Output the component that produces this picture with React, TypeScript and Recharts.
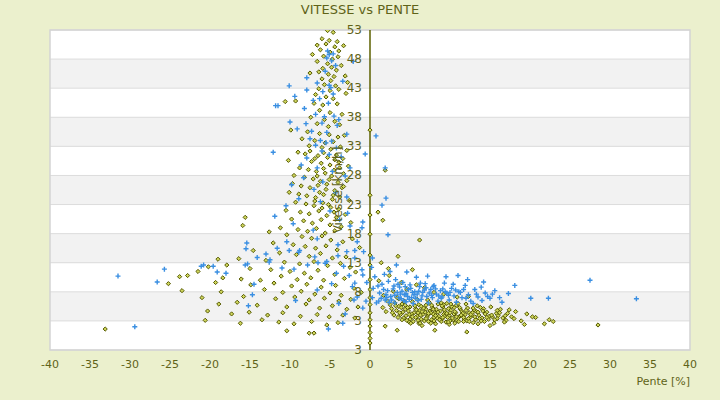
import { ScatterChart, Scatter, XAxis, YAxis, CartesianGrid, ReferenceLine, ReferenceArea } from 'recharts';

const BG = '#ebf0cd';
const OLIVE_TEXT = '#5f6318';
const AXIS = '#5c6000';

const xTicks = [-40, -35, -30, -25, -20, -15, -10, -5, 0, 5, 10, 15, 20, 25, 30, 35, 40];
const yTicks = [-2, 3, 8, 13, 18, 23, 28, 33, 38, 43, 48, 53];
const yTickLabels = ['3', '3', '8', '13', '18', '23', '28', '33', '38', '43', '48', '53'];

// pente [%], vitesse [km/h] — olive diamonds
const olivePoints: [number, number][] = [
  // tower, top
  [-5.3, 52.9], [-4.6, 52.6], [-6.0, 51.5], [-5.1, 51.2], [-4.1, 51.0], [-6.6, 50.4], [-5.5, 50.6], [-4.4, 50.1],
  [-3.3, 50.3], [-6.2, 49.6], [-5.0, 49.2], [-3.9, 49.4], [-7.2, 48.8], [-5.8, 48.5], [-4.7, 48.0], [-4.0, 48.4],
  [-6.6, 47.6], [-5.3, 47.2], [-3.6, 46.9], [-4.8, 46.6], [-5.9, 46.4], [-4.2, 46.1], [-7.5, 45.6], [-6.4, 45.8],
  [-5.2, 45.4], [-4.5, 45.0], [-3.1, 45.1], [-6.0, 44.6], [-4.9, 44.3], [-2.8, 44.0],
  [-5.7, 43.6], [-4.3, 43.4], [-6.4, 42.9], [-5.0, 42.6], [-3.9, 42.8], [-3.0, 42.1], [-6.8, 41.9], [-5.5, 41.5],
  [-4.6, 41.2], [-9.3, 40.8], [-10.6, 40.7], [-7.0, 40.4], [-5.9, 40.1], [-4.1, 40.3], [-6.3, 39.2], [-5.0, 38.8],
  [-3.5, 38.5], [-7.4, 38.0], [-5.7, 37.6], [-4.4, 37.3], [-6.6, 36.9], [-5.2, 36.4], [-3.8, 36.7],
  // tower, middle
  [-9.9, 35.8], [-7.8, 35.5], [-6.3, 35.2], [-5.1, 35.0], [-4.0, 34.6], [-3.2, 34.9], [-8.5, 34.3], [-6.9, 34.0],
  [-5.6, 33.6], [-4.6, 33.8], [-7.6, 33.1], [-6.0, 32.8], [-4.9, 32.5], [-3.7, 32.9], [-2.9, 32.3], [-9.0, 32.0],
  [-8.1, 31.7], [-6.5, 31.4], [-5.3, 31.1], [-4.2, 31.5], [-3.4, 30.9], [-10.2, 30.6], [-7.3, 30.4], [-6.1, 30.1],
  [-5.0, 29.8], [-3.9, 30.3], [-2.7, 29.6], [-8.8, 29.3], [-7.7, 29.0], [-6.7, 28.7], [-5.6, 28.4], [-4.5, 28.9],
  [-3.3, 28.3], [-9.5, 28.0],
  [-8.2, 27.7], [-7.1, 27.4], [-6.2, 27.0], [-5.1, 27.3], [-4.0, 26.8], [-2.9, 27.1], [-9.7, 26.6], [-8.6, 26.2],
  [-7.5, 25.9], [-6.5, 26.3], [-5.5, 25.6], [-4.4, 25.4], [-3.5, 25.9], [-10.1, 25.1], [-8.9, 24.8], [-7.9, 24.5],
  [-6.8, 24.2], [-5.8, 24.7], [-4.7, 23.9], [-3.8, 24.3], [-2.6, 23.7], [-9.3, 23.4], [-8.0, 23.1], [-7.0, 22.8],
  [-5.9, 23.3], [-4.9, 22.5], [-3.9, 22.2], [-10.5, 22.0], [-8.7, 21.7], [-7.6, 21.4], [-6.4, 21.9], [-5.4, 21.1],
  [-4.2, 20.8], [-3.1, 21.3], [-9.8, 20.5], [-8.3, 20.2], [-7.2, 19.8], [-6.1, 20.4], [-5.0, 19.5], [-3.6, 19.2],
  [-2.4, 19.9], [-11.2, 19.0], [-9.0, 18.7], [-7.8, 18.4], [-6.7, 18.9], [-5.6, 18.1], [-4.4, 18.5], [-15.6, 20.8],
  [-15.9, 19.4], [-12.6, 18.3],
  [-6.9, 30.9], [-5.8, 29.2], [-4.8, 27.9], [-6.6, 27.9], [-5.4, 26.5], [-4.6, 24.6], [-6.3, 25.1], [-3.3, 26.1],
  [-5.2, 23.0], [-6.9, 23.6], [-4.5, 21.7], [-6.0, 22.4], [-3.8, 29.3], [-7.5, 32.2], [-5.8, 31.9], [-4.4, 30.7],
  // tower, foot and left spread
  [-10.4, 17.8], [-8.5, 17.5], [-7.3, 17.2], [-6.0, 17.6], [-4.9, 16.9], [-3.4, 16.6], [-2.2, 17.1], [-12.1, 16.4],
  [-9.6, 16.1], [-8.1, 15.8], [-6.8, 15.5], [-5.5, 15.9], [-4.1, 15.2], [-1.3, 15.6], [-14.6, 15.1], [-11.3, 14.7],
  [-9.2, 14.4], [-7.6, 14.1], [-6.2, 14.6], [-4.7, 13.8], [-3.0, 14.0], [-16.4, 13.7], [-13.0, 13.4], [-10.7, 13.1],
  [-8.8, 12.8], [-7.0, 13.2], [-5.3, 12.5], [-3.7, 12.9], [-2.5, 12.2], [-17.9, 12.6], [-15.0, 12.0], [-12.4, 11.8],
  [-10.0, 11.5], [-8.2, 11.2], [-6.5, 11.7], [-4.4, 11.0], [-1.8, 11.4], [-21.5, 11.5], [-22.8, 10.8], [-23.8, 10.6],
  [-18.4, 10.4], [-16.1, 10.2], [-13.7, 10.0], [-11.1, 10.7], [-9.1, 10.1], [-7.4, 10.4], [-5.8, 10.0], [-3.2, 10.3],
  [-20.2, 12.3], [-19.0, 13.6],
  [-25.2, 9.4], [-19.3, 9.6], [-14.9, 9.2], [-12.0, 9.5], [-9.8, 9.0], [-7.9, 9.3], [-6.1, 8.8], [-4.3, 9.1],
  [-2.0, 8.6], [-23.5, 8.2], [-18.6, 8.0], [-13.2, 8.4], [-10.9, 7.9], [-8.6, 8.1], [-6.9, 7.6], [-5.0, 7.8],
  [-3.6, 7.4], [-1.1, 7.9], [-21.0, 7.0], [-15.8, 7.2], [-11.8, 6.8], [-9.4, 7.1], [-7.6, 6.6], [-5.7, 6.9],
  [-3.9, 6.4], [-2.4, 6.7], [-18.9, 5.9], [-16.6, 6.2], [-14.1, 5.7], [-10.4, 5.4], [-8.0, 5.9], [-6.3, 5.2],
  [-4.7, 5.6], [-2.9, 5.0], [-1.5, 5.4], [-20.3, 4.7], [-17.3, 4.2], [-15.1, 4.5], [-12.8, 4.0], [-10.9, 4.4],
  [-8.7, 3.8], [-6.6, 4.1], [-5.1, 3.7], [-3.4, 4.0], [-1.9, 3.5], [-20.6, 3.1], [-16.2, 2.6], [-13.5, 3.2],
  [-11.4, 2.8], [-9.5, 2.5], [-7.3, 2.9], [-5.4, 2.3], [-4.0, 2.7], [-33.1, 1.6], [-10.4, 1.3], [-7.6, 0.9], [-7.0, 0.9],
  // on the zero line
  [0, 35.8], [0, 24.6], [0, 21.2], [0, 17.9], [0, 14.3], [0, 12.6], [0, 10.1], [0, 8.4], [0, 7.0], [0, 5.8],
  [0, 4.4], [0, 3.2], [0, 2.1], [0, 1.0], [0, 0.0], [0, -0.8],
  // right band
  [2.2, 6.4], [3.1, 6.1], [4.0, 5.9], [5.3, 6.3], [6.1, 5.8], [7.4, 6.2], [8.5, 5.9], [9.6, 6.0], [10.8, 5.7],
  [12.0, 5.9], [13.4, 5.6], [15.1, 5.4],
  [1.6, 5.3], [2.7, 5.1], [3.6, 5.5], [4.4, 5.0], [5.0, 5.4], [5.7, 5.1], [6.4, 5.5], [7.0, 5.0], [7.8, 5.3],
  [8.3, 5.0], [9.1, 5.4], [9.8, 5.1], [10.5, 5.3], [11.3, 5.0], [12.2, 5.2], [13.0, 4.9], [14.2, 5.1], [16.3, 5.0],
  [17.4, 4.9],
  [2.0, 4.6], [3.3, 4.8], [4.1, 4.5], [4.8, 4.7], [5.5, 4.4], [6.2, 4.8], [6.9, 4.5], [7.5, 4.7], [8.1, 4.4],
  [8.8, 4.7], [9.4, 4.5], [10.1, 4.8], [10.7, 4.4], [11.5, 4.6], [12.4, 4.4], [13.3, 4.6], [14.6, 4.5], [15.8, 4.3],
  [18.2, 4.6], [19.6, 4.2],
  [3.8, 4.1], [4.5, 3.9], [5.2, 4.2], [5.9, 3.8], [6.6, 4.1], [7.2, 3.9], [7.9, 4.2], [8.6, 3.8], [9.2, 4.1],
  [9.9, 3.9], [10.5, 4.2], [11.2, 3.8], [11.9, 4.1], [12.7, 3.9], [13.6, 4.0], [14.9, 3.8], [16.0, 3.9], [17.7, 3.7],
  [20.7, 3.6], [22.4, 3.2],
  [4.2, 3.5], [5.0, 3.3], [5.7, 3.6], [6.4, 3.3], [7.1, 3.6], [7.7, 3.2], [8.4, 3.5], [9.0, 3.3], [9.7, 3.6],
  [10.4, 3.2], [11.0, 3.5], [11.8, 3.3], [12.5, 3.6], [13.2, 3.2], [14.0, 3.5], [14.8, 3.3], [15.9, 3.4], [17.0, 3.1],
  [18.9, 3.0], [20.3, 3.7],
  [4.9, 2.8], [6.1, 2.6], [7.3, 2.9], [8.2, 2.5], [9.5, 2.8], [10.6, 2.6], [11.7, 2.9], [12.9, 2.7], [14.3, 2.9],
  [15.5, 2.6], [16.8, 2.8], [19.3, 2.4], [22.9, 2.9], [21.8, 2.5], [28.5, 2.3], [40.6, 0.75],
  [3.0, 4.0], [3.5, 3.6], [4.6, 3.1], [5.4, 2.9], [6.0, 4.4], [6.8, 3.0], [7.6, 4.4], [8.0, 3.6], [8.9, 2.9],
  [9.3, 4.9], [10.0, 3.0], [10.8, 3.7], [11.6, 4.3], [12.1, 3.0], [12.8, 4.4], [13.7, 3.4], [14.4, 4.2], [15.3, 3.7],
  [15.9, 4.8], [16.6, 3.5], [17.2, 4.3], [18.0, 3.4], [2.5, 5.8], [4.3, 6.4], [5.9, 6.7], [7.7, 5.7], [9.2, 5.8],
  [11.0, 6.0], [3.9, 5.3], [13.8, 5.3], [6.5, 2.2], [9.9, 2.4], [13.5, 2.5], [15.0, 2.2],
  [3.2, 5.6], [3.7, 4.4], [4.4, 5.7], [4.9, 4.1], [5.3, 3.7], [5.6, 5.6], [6.0, 3.1], [6.3, 4.0], [6.7, 5.2],
  [7.0, 3.4], [7.3, 4.3], [7.6, 2.6], [7.9, 5.0], [8.2, 3.9], [8.5, 4.5], [8.7, 3.2], [9.0, 5.6], [9.3, 3.8],
  [9.6, 4.3], [9.8, 2.8], [10.2, 5.5], [10.3, 3.5], [10.6, 4.6], [10.9, 3.1], [11.2, 5.3], [11.4, 4.0], [11.7, 3.6],
  [12.0, 4.8], [12.3, 3.4], [12.6, 4.1], [12.9, 5.2], [13.1, 3.7], [13.5, 4.5], [13.9, 3.0], [14.1, 4.7], [14.6, 3.6],
  [15.2, 4.0], [15.6, 3.2], [16.2, 4.4], [16.9, 3.9], [5.8, 4.9], [6.5, 4.6], [7.0, 5.7], [8.0, 3.0], [9.1, 3.6],
  [10.0, 4.4], [11.1, 2.9], [12.4, 2.9], [4.0, 3.2], [4.7, 5.3], [5.1, 2.6], [8.9, 6.1], [10.1, 5.9], [7.2, 6.6],
  [3.6, 6.8], [2.8, 4.4],
  [1.9, 2.1], [3.4, 1.4], [8.1, 1.4], [12.1, 1.1], [6.25, 2.6],
  // right, scattered above the band
  [1.1, 9.9], [2.4, 10.8], [3.9, 9.6], [5.8, 9.2], [4.6, 8.4], [2.9, 8.1], [6.8, 8.7], [8.0, 7.9], [1.7, 7.4],
  [3.4, 7.0], [9.2, 7.6], [10.9, 7.1], [6.2, 16.9], [1.9, 28.9], [1.0, 21.7], [1.6, 20.3], [3.5, 14.1], [1.4, 13.0],
  [5.3, 11.8], [2.3, 12.0], [12.3, 7.2],
];

// blue crosses
const bluePoints: [number, number][] = [
  // tower
  [-5.3, 49.4], [-5.1, 48.8], [-4.6, 48.9], [-5.4, 48.2], [-4.8, 47.7], [-2.1, 47.6], [-4.3, 46.9], [-5.6, 45.9],
  [-3.4, 44.2], [-7.9, 44.8], [-6.6, 43.9], [-5.1, 43.5], [-4.9, 43.1], [-10.1, 43.4], [-7.9, 42.7], [-5.9, 42.4],
  [-4.6, 42.0], [-9.4, 41.6], [-6.3, 41.2], [-7.1, 40.9], [-5.2, 40.4], [-11.5, 40.0], [-11.8, 40.0], [-8.2, 39.5],
  [-6.8, 38.5], [-5.7, 38.1], [-4.5, 38.2], [-3.9, 37.6], [-10.0, 37.2], [-8.0, 36.9], [-6.0, 37.0], [-4.1, 36.6],
  [-9.1, 36.0], [-7.3, 35.6], [-5.4, 35.4], [-2.9, 35.1],
  [-12.1, 32.0], [-9.8, 26.4], [-10.5, 22.8], [-11.9, 21.0], [-7.5, 34.3], [-6.8, 33.2], [-6.2, 34.0], [-5.5, 33.6],
  [-4.8, 33.9], [-4.2, 32.7], [-6.0, 32.2], [-5.1, 31.6], [-7.9, 31.0], [-3.6, 31.2], [-2.5, 29.3], [-0.6, 31.7],
  [-8.6, 29.8], [-6.6, 29.3], [-4.7, 28.7], [-8.3, 27.6], [-5.9, 26.9], [-3.1, 27.9], [-7.0, 25.6], [-4.3, 25.0],
  [-2.9, 24.3], [-8.9, 24.0], [-6.2, 23.5], [-2.8, 21.5], [-0.9, 20.0], [-1.0, 19.0], [-2.5, 19.3], [-1.6, 16.6],
  [-7.1, 18.6], [-9.6, 19.7], [-5.0, 21.9], [-3.8, 20.4], [-6.6, 17.1], [-4.0, 16.1], [-10.4, 16.6], [-8.8, 15.1],
  [-6.9, 14.0], [-5.4, 13.2], [-3.3, 12.4], [-1.9, 13.8], [-0.8, 14.9], [-12.6, 13.1], [-14.1, 13.9], [-11.0, 12.1],
  [-9.5, 11.9], [-7.8, 12.6], [-2.6, 10.8], [-1.0, 11.8], [-0.4, 9.6], [-4.8, 9.4], [-6.6, 8.3], [-2.2, 8.9],
  [-1.6, 7.1], [-3.9, 6.0], [-9.3, 6.5], [-0.9, 5.2], [-0.5, 6.4], [-3.1, 4.2], [-5.2, 1.6],
  [-0.9, 10.9], [-1.9, 9.5], [-2.0, 6.6], [-3.4, 2.6],
  // left spread
  [-42.3, 2.0], [-31.5, 10.7], [-29.4, 2.0], [-26.6, 9.7], [-25.7, 11.9], [-21.1, 12.4], [-20.8, 12.6], [-19.6, 12.4],
  [-19.1, 11.4], [-18.0, 11.2], [-15.6, 12.6], [-15.5, 15.4], [-15.4, 16.4], [-15.3, 12.8], [-14.7, 7.5], [-15.2, 5.6],
  [-14.5, 9.3], [-13.0, 14.5], [-12.5, 13.5], [-11.6, 15.5], [-10.1, 15.1], [-8.9, 14.8], [-6.5, 13.0], [-5.6, 12.9],
  [-4.0, 14.2], [-2.9, 14.9], [-1.9, 15.1], [-4.2, 11.2],
  // near the zero line, right side
  [0.75, 34.8], [1.9, 29.3], [2.0, 24.1], [1.5, 22.9], [2.25, 17.8], [0.3, 13.8], [0.2, 12.2], [0.6, 10.6],
  // right cluster
  [0.4, 8.6], [0.3, 7.0], [0.8, 6.1], [1.2, 7.8], [1.5, 9.3], [1.9, 6.6], [2.2, 8.2], [2.5, 11.5], [2.6, 7.2],
  [3.0, 9.0], [3.1, 6.1], [3.4, 7.9], [3.7, 8.8], [3.9, 6.8], [4.1, 9.6], [4.3, 7.5], [4.5, 6.3], [4.8, 8.4],
  [5.0, 9.2], [5.2, 7.0], [5.4, 6.0], [5.6, 8.0], [5.8, 10.5], [5.9, 7.6], [6.2, 8.9], [6.4, 6.7], [6.6, 7.9],
  [6.9, 9.4], [7.1, 7.2], [7.3, 6.1], [7.6, 8.4], [7.8, 7.0], [8.0, 9.1], [8.3, 7.6], [8.5, 6.4], [8.8, 8.2],
  [9.0, 7.1], [9.3, 9.5], [9.6, 7.8], [9.9, 6.6], [10.2, 8.6], [10.5, 7.3], [10.8, 6.2], [11.1, 8.0], [11.5, 7.0],
  [11.9, 9.1], [12.3, 7.5], [12.6, 6.4], [13.1, 8.4], [13.5, 7.1], [14.0, 6.5], [14.4, 7.8], [15.0, 6.9], [15.6, 8.2],
  [16.2, 7.0], [17.3, 7.7], [18.1, 9.1], [20.1, 6.9], [22.3, 6.9], [27.5, 10.0], [33.3, 6.8], [16.5, 6.2], [12.9, 6.0],
  [4.6, 11.4], [3.3, 12.6], [1.8, 11.0], [9.5, 10.6], [11.0, 10.8], [7.2, 10.7], [14.2, 9.7], [12.2, 10.1],
  [2.0, 7.5], [2.9, 8.5], [3.6, 7.0], [4.0, 8.1], [4.7, 7.2], [5.1, 8.6], [5.5, 7.5], [6.0, 6.5], [6.3, 9.5],
  [6.8, 8.3], [7.4, 7.8], [7.9, 8.9], [8.6, 7.3], [9.1, 8.5], [9.8, 7.4], [10.4, 9.3], [11.3, 7.9], [2.4, 6.2],
  [3.2, 10.1], [4.9, 6.7],
  [1.0, 9.0], [1.4, 6.9], [1.7, 8.4], [2.3, 9.8], [2.7, 6.6], [3.5, 9.3], [3.8, 7.6], [4.2, 6.5], [4.4, 8.9],
  [5.3, 7.9], [5.7, 6.9], [6.1, 8.1], [6.5, 7.3], [7.0, 8.7], [7.7, 7.4], [8.2, 8.5], [8.9, 6.9], [9.4, 8.0],
  [10.0, 7.9], [10.7, 8.3], [11.7, 8.4], [12.0, 6.9], [13.3, 7.6], [13.9, 8.8], [14.7, 7.2], [15.3, 7.6], [1.1, 6.4],
  [2.1, 7.0], [3.1, 7.4], [4.5, 7.7],
];

const oliveData = olivePoints.map(([x, y]) => ({ x, y }));
const blueData = bluePoints.map(([x, y]) => ({ x, y }));

// eslint-disable-next-line @typescript-eslint/no-explicit-any
function Diamond({ cx, cy }: any) {
  if (cx == null || cy == null) return null;
  const r = 2.1;
  return (
    <path
      d={`M${cx},${cy - r}L${cx + r},${cy}L${cx},${cy + r}L${cx - r},${cy}Z`}
      fill="#cfd65c"
      stroke="#555900"
      strokeWidth={1}
    />
  );
}

// eslint-disable-next-line @typescript-eslint/no-explicit-any
function Cross({ cx, cy }: any) {
  if (cx == null || cy == null) return null;
  return (
    <path d={`M${cx - 2.5},${cy}H${cx + 2.5}M${cx},${cy - 2.5}V${cy + 2.5}`} stroke="#3a8fe2" strokeWidth={1.4} />
  );
}

// eslint-disable-next-line @typescript-eslint/no-explicit-any
function YTick({ y, payload }: any) {
  const i = yTicks.indexOf(payload.value);
  return (
    <text x={362} y={y} dy={4} textAnchor="end" fontSize={12} fill={OLIVE_TEXT} fontFamily="DejaVu Sans">
      {i >= 0 ? yTickLabels[i] : payload.value}
    </text>
  );
}

export default function App() {
  return (
    <div style={{ position: 'fixed', left: 0, top: 0, width: 720, height: 400, background: BG, fontFamily: 'DejaVu Sans' }}>
      <div
        style={{
          position: 'absolute', top: 2, left: 0, width: 720, textAlign: 'center',
          fontSize: 13, lineHeight: '16px', color: OLIVE_TEXT,
        }}
      >
        VITESSE vs PENTE
      </div>
      <ScatterChart width={720} height={400} margin={{ top: 30, right: 30, bottom: 0, left: 0 }}>
        <CartesianGrid vertical={false} stroke="#dcdcdc" horizontalFill={['#ffffff', '#f2f2f2']} fillOpacity={1} />
        <ReferenceArea x1={-40} x2={40} y1={-2} y2={53} fill="none" stroke="#d4d4d4" strokeWidth={1.5} />
        <ReferenceLine x={0} stroke={AXIS} strokeWidth={1.5} />
        <Scatter data={oliveData} shape={Diamond} isAnimationActive={false} />
        <Scatter data={blueData} shape={Cross} isAnimationActive={false} />
        <XAxis
          type="number"
          dataKey="x"
          domain={[-40, 40]}
          ticks={xTicks}
          interval={0}
          allowDataOverflow
          height={50}
          axisLine={false}
          tickLine={false}
          tickMargin={4}
          tick={{ fill: OLIVE_TEXT, fontSize: 11, fontFamily: 'DejaVu Sans' }}
          label={() => (
            <text x={690} y={385} textAnchor="end" fontSize={11} fill={OLIVE_TEXT} fontFamily="DejaVu Sans">
              Pente [%]
            </text>
          )}
        />
        <YAxis
          type="number"
          dataKey="y"
          domain={[-2, 53]}
          ticks={yTicks}
          interval={0}
          allowDataOverflow
          width={50}
          axisLine={false}
          tickLine={false}
          tick={YTick}
        />
      </ScatterChart>
      <div
        style={{
          position: 'absolute', left: 338, top: 190, zIndex: 2,
          transform: 'translate(-50%, -50%) rotate(-90deg)',
          whiteSpace: 'nowrap', fontSize: 12, lineHeight: '14px', color: OLIVE_TEXT,
        }}
      >
        Vitesse [km/h]
      </div>
    </div>
  );
}
